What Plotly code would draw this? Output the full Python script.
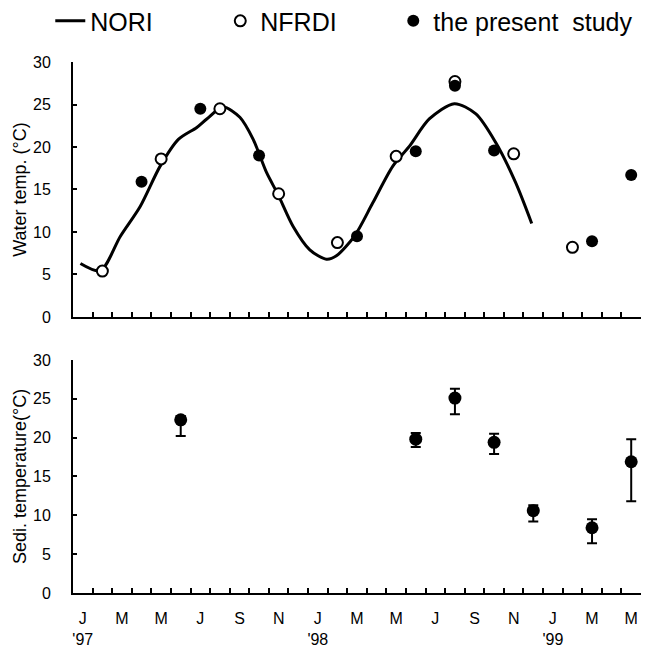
import plotly.graph_objects as go
from plotly.subplots import make_subplots

# Month index: 0 = start of Jan 1997, 29 = end of May 1999
month_labels = ["J<br>'97", "M", "M", "J", "S", "N", "J<br>'98", "M", "M", "J", "S", "N", "J<br>'99", "M", "M"]
label_pos = [0.5, 2.5, 4.5, 6.5, 8.5, 10.5, 12.5, 14.5, 16.5, 18.5, 20.5, 22.5, 24.5, 26.5, 28.5]
month_ticks = list(range(1, 29))

# NORI water temperature curve
nori_t = [0.38, 1.4, 2.42, 3.43, 4.45, 5.38, 6.32, 6.83, 7.67, 8.52, 9.2, 9.88, 10.47, 11.24,
          12.09, 12.94, 13.45, 14.38, 15.3, 16.33, 17.18, 18.19, 19.47, 20.57, 21.59, 22.6, 23.42]
nori_v = [6.3, 5.45, 9.5, 13.0, 17.75, 20.9, 22.3, 23.3, 24.7, 23.5, 20.9, 17.0, 14.4, 10.65,
          7.9, 6.8, 7.2, 9.55, 13.4, 17.75, 20.1, 23.3, 25.1, 23.9, 20.5, 15.8, 11.0]

# NFRDI water temperature
nfrdi_t = [1.5, 4.5, 7.5, 10.5, 13.5, 16.5, 19.5, 22.5, 25.5]
nfrdi_v = [5.4, 18.6, 24.5, 14.5, 8.75, 18.9, 27.7, 19.2, 8.2]

# Present study water temperature
study_t = [3.5, 6.5, 9.5, 14.5, 17.5, 19.5, 21.5, 26.5, 28.5]
study_v = [15.9, 24.5, 19.0, 9.5, 19.5, 27.2, 19.6, 8.9, 16.7]

# Sediment temperature (mean, upper, lower)
sed_t = [5.5, 17.5, 19.5, 21.5, 23.5, 26.5, 28.5]
sed_v = [22.3, 19.8, 25.1, 19.4, 10.6, 8.4, 16.9]
sed_hi = [22.8, 20.6, 26.3, 20.5, 11.3, 9.5, 19.8]
sed_lo = [20.2, 18.8, 23.0, 17.9, 9.2, 6.4, 11.8]

FONT = "Liberation Sans, Arial, sans-serif"

fig = make_subplots(rows=2, cols=1, shared_xaxes=False, vertical_spacing=0.0)

fig.add_trace(go.Scatter(x=nori_t, y=nori_v, mode="lines", name="NORI", legendwidth=125,
                         line=dict(color="black", width=3, shape="spline", smoothing=0.8)),
              row=1, col=1)
fig.add_trace(go.Scatter(x=nfrdi_t, y=nfrdi_v, mode="markers", name="NFRDI", legendwidth=128,
                         marker=dict(symbol="circle", size=11, color="white",
                                     line=dict(color="black", width=2))),
              row=1, col=1)
fig.add_trace(go.Scatter(x=study_t, y=study_v, mode="markers", name="the present&nbsp;&nbsp;study",
                         legendwidth=215,
                         marker=dict(symbol="circle", size=12, color="black",
                                     line=dict(color="black", width=0))),
              row=1, col=1)
fig.add_trace(go.Scatter(x=sed_t, y=sed_v, mode="markers", showlegend=False,
                         marker=dict(symbol="circle", size=13, color="black"),
                         error_y=dict(type="data", symmetric=False,
                                      array=[h - v for h, v in zip(sed_hi, sed_v)],
                                      arrayminus=[v - l for v, l in zip(sed_v, sed_lo)],
                                      color="black", thickness=2, width=5)),
              row=2, col=1)

axis_common = dict(showgrid=False, zeroline=False, showline=True, linecolor="black",
                   linewidth=2, mirror=False, automargin=False)

xcommon = dict(axis_common, range=[0, 29], tickmode="array", tickvals=label_pos,
               ticks="", ticklabelstandoff=10,
               minor=dict(tickmode="array", tickvals=month_ticks, ticks="inside",
                          ticklen=5, tickwidth=2, tickcolor="black"),
               tickfont=dict(family=FONT, size=16, color="black"))

fig.update_xaxes(**xcommon, ticktext=[""] * len(label_pos), row=1, col=1)
fig.update_xaxes(**xcommon, ticktext=month_labels, row=2, col=1)

ycommon = dict(axis_common, range=[0, 30], tickmode="array", tickvals=[0, 5, 10, 15, 20, 25, 30],
               ticks="inside", ticklen=4, tickwidth=2, tickcolor="black", ticklabelstandoff=17,
               tickfont=dict(family=FONT, size=16, color="black"))
fig.update_yaxes(**ycommon, title=dict(text="Water temp. (°C)", font=dict(family=FONT, size=18, color="black"), standoff=2),
                 row=1, col=1)
fig.update_yaxes(**ycommon, title=dict(text="Sedi. temperature(°C)", font=dict(family=FONT, size=18, color="black"), standoff=2),
                 row=2, col=1)

fig.update_layout(
    width=654, height=649,
    margin=dict(l=72.5, r=13, t=62, b=56, autoexpand=False),
    plot_bgcolor="white", paper_bgcolor="white",
    xaxis=dict(domain=[0, 1]),
    yaxis=dict(domain=[0.5198, 1.0]),
    xaxis2=dict(domain=[0, 1]),
    yaxis2=dict(domain=[0.0, 0.4388]),
    showlegend=True,
    legend=dict(orientation="h", x=-0.04, xanchor="left", y=1.077, yanchor="middle",
                font=dict(family=FONT, size=25, color="black"),
                bgcolor="rgba(0,0,0,0)", itemsizing="trace"),
    font=dict(family=FONT, color="black"),
)

fig.write_html("out.html")
